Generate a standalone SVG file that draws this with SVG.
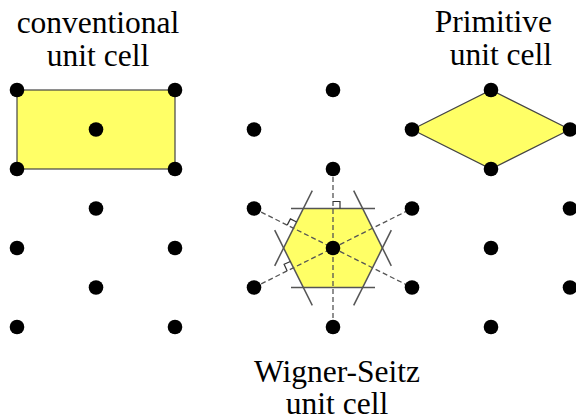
<svg xmlns="http://www.w3.org/2000/svg" width="576" height="420" viewBox="0 0 576 420">
<style>
.lbl{font-family:"Liberation Serif","Times New Roman",serif;font-size:31.5px;fill:#000}
.cell{fill:#ffff66;stroke:#444;stroke-width:1.2}
.dash{stroke:#555;stroke-width:1.3;stroke-dasharray:5,3;fill:none}
.bis{stroke:#555;stroke-width:1.5;fill:none}
.ra{stroke:#333;stroke-width:1.2;fill:none}
.pt{fill:#000}
</style>
<rect width="576" height="420" fill="#fff"/>
<g id="labels">
<text class="lbl" x="98" y="33" text-anchor="middle">conventional</text>
<text class="lbl" x="98" y="66" text-anchor="middle">unit cell</text>
<text class="lbl" x="552" y="32" text-anchor="end">Primitive</text>
<text class="lbl" x="552" y="64.5" text-anchor="end">unit cell</text>
<text class="lbl" x="337" y="382" text-anchor="middle">Wigner-Seitz</text>
<text class="lbl" x="337" y="414" text-anchor="middle">unit cell</text>
</g>
<g id="conventional-cell">
<rect class="cell" x="17" y="90" width="158" height="79"/>
</g>
<g id="primitive-cell">
<polygon class="cell" points="412,129.5 491,90 570,129.5 491,169"/>
</g>
<g id="wigner-seitz-cell">
<polygon fill="#ffff66" points="303.4,208.5 362.6,208.5 382.4,248 362.6,287.5 303.4,287.5 283.6,248"/>
</g>
<g id="connectors">
<line class="dash" x1="333" y1="169" x2="333" y2="327"/>
<line class="dash" x1="254" y1="208.5" x2="412" y2="287.5"/>
<line class="dash" x1="254" y1="287.5" x2="412" y2="208.5"/>
<line class="bis" x1="291" y1="208.5" x2="375" y2="208.5"/>
<line class="bis" x1="291" y1="287.5" x2="375" y2="287.5"/>
<line class="bis" x1="312.3" y1="190.7" x2="274.7" y2="265.8"/>
<line class="bis" x1="312.3" y1="305.3" x2="274.7" y2="230.2"/>
<line class="bis" x1="353.7" y1="190.7" x2="391.3" y2="265.8"/>
<line class="bis" x1="353.7" y1="305.3" x2="391.3" y2="230.2"/>
<path class="ra" d="M333,201.5 H340 V208.5"/>
<path class="ra" d="M287.2,225.1 L290.4,218.9 L296.6,222"/>
<path class="ra" d="M287.2,270.9 L284.1,264.2 L290.4,261.5"/>
</g>
<g id="lattice">
<circle class="pt" cx="17" cy="90" r="7.3"/>
<circle class="pt" cx="175" cy="90" r="7.3"/>
<circle class="pt" cx="333" cy="90" r="7.3"/>
<circle class="pt" cx="491" cy="90" r="7.3"/>
<circle class="pt" cx="96" cy="129.5" r="7.3"/>
<circle class="pt" cx="254" cy="129.5" r="7.3"/>
<circle class="pt" cx="412" cy="129.5" r="7.3"/>
<circle class="pt" cx="570" cy="129.5" r="7.3"/>
<circle class="pt" cx="17" cy="169" r="7.3"/>
<circle class="pt" cx="175" cy="169" r="7.3"/>
<circle class="pt" cx="333" cy="169" r="7.3"/>
<circle class="pt" cx="491" cy="169" r="7.3"/>
<circle class="pt" cx="96" cy="208.5" r="7.3"/>
<circle class="pt" cx="254" cy="208.5" r="7.3"/>
<circle class="pt" cx="412" cy="208.5" r="7.3"/>
<circle class="pt" cx="570" cy="208.5" r="7.3"/>
<circle class="pt" cx="17" cy="248" r="7.3"/>
<circle class="pt" cx="175" cy="248" r="7.3"/>
<circle class="pt" cx="333" cy="248" r="7.3"/>
<circle class="pt" cx="491" cy="248" r="7.3"/>
<circle class="pt" cx="96" cy="287.5" r="7.3"/>
<circle class="pt" cx="254" cy="287.5" r="7.3"/>
<circle class="pt" cx="412" cy="287.5" r="7.3"/>
<circle class="pt" cx="570" cy="287.5" r="7.3"/>
<circle class="pt" cx="17" cy="327" r="7.3"/>
<circle class="pt" cx="175" cy="327" r="7.3"/>
<circle class="pt" cx="333" cy="327" r="7.3"/>
<circle class="pt" cx="491" cy="327" r="7.3"/>
</g>
</svg>
